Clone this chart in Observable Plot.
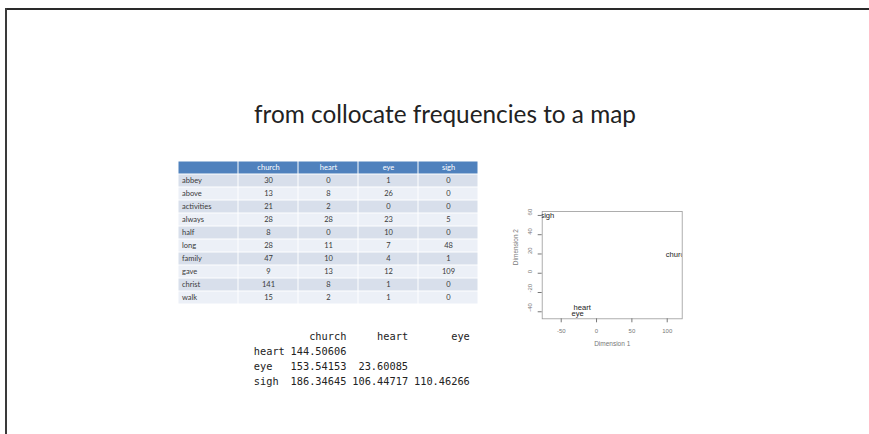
<!DOCTYPE html>
<html><head><meta charset="utf-8">
<script src="https://cdn.jsdelivr.net/npm/d3@7"></script>
<script src="https://cdn.jsdelivr.net/npm/@observablehq/plot@0.6"></script>
<style>
html,body{margin:0;padding:0;background:#fff;}
#slide{position:relative;width:869px;height:434px;overflow:hidden;background:#fff;}
.abs{position:absolute;}
#bt{left:5px;top:7.5px;width:864px;height:2px;background:#2a2a2a;}
#bl{left:5px;top:7.5px;width:2px;height:427px;background:#3a3a3a;}
#titleSvg{left:0;top:0;}
#table{left:178px;top:157.5px;}
#dist{left:250px;top:325px;}
#scatter{left:500px;top:195px;}
</style>
</head><body>
<div id="slide">
  <div class="abs" id="bt"></div>
  <div class="abs" id="bl"></div>
  <svg class="abs" id="titleSvg" width="869" height="140"></svg>
  <div class="abs" id="table"></div>
  <div class="abs" id="dist"></div>
  <div class="abs" id="scatter"></div>
</div>
<script>
// ---- data ----
const titleText = "from collocate frequencies to a map";
const words = ["abbey","above","activities","always","half","long","family","gave","christ","walk"];
const nodes = ["church","heart","eye","sigh"];
const church = [30,13,21,28,8,28,47,9,141,15];
const heart  = [0,8,2,28,0,11,10,13,8,2];
const eye    = [1,26,0,23,10,7,4,12,1,1];
const sigh   = [0,0,0,5,0,48,1,109,0,0];

const distRows = ["heart","eye","sigh"];
const distCols = ["church","heart","eye"];
const distHeart = [144.50606];
const distEye   = [153.54153, 23.60085];
const distSigh  = [186.34645, 106.44717, 110.46266];

const mdsX = [114, -20.4, -26.8, -69.6];   // church, heart, eye, sigh
const mdsY = [19.4, -35.5, -41.8, 60];
const xTicks = [-50, 0, 50, 100];
const yTicks = [-40, -20, 0, 20, 40, 60];
const xLabel = "Dimension 1";
const yLabel = "Dimension 2";

// ---- title ----
(function(){
  const svg = d3.select("#titleSvg");
  const t = svg.append("text").attr("x", 445).attr("y", 123.3)
    .attr("text-anchor", "middle")
    .attr("font-family", "Lato, 'Open Sans', sans-serif")
    .attr("font-size", 20).attr("fill", "#222").text(titleText);
  const w = t.node().getComputedTextLength();
  t.attr("font-size", 20 * 382 / w);
})();

// ---- table ----
const cols = ["", ...nodes];
const HDR = "__header";
const series = {church, heart, eye, sigh};
const cellData = [];
cols.forEach(c => cellData.push({row: HDR, col: c, i: -1}));
words.forEach((w, i) => cols.forEach(c => cellData.push({row: w, col: c, i})));
const valueData = [];
words.forEach((w, i) => nodes.forEach(n => valueData.push({row: w, col: n, v: series[n][i]})));

const table = Plot.plot({
  width: 302, height: 149,
  marginTop: 0, marginBottom: 0, marginLeft: 0, marginRight: 2,
  x: {type: "band", domain: cols, padding: 0, axis: null},
  y: {type: "band", domain: [HDR, ...words], padding: 0, axis: null},
  color: {type: "identity"},
  style: {fontFamily: "Lato, 'Open Sans', sans-serif", background: "transparent", overflow: "visible"},
  marks: [
    Plot.cell(cellData, {x: "col", y: "row",
      fill: d => d.row === HDR ? "#4f81bd" : (d.i % 2 === 0 ? "#d8dfeb" : "#ecf0f7"),
      inset: 0.5}),
    Plot.text(nodes, {x: d => d, y: () => HDR, text: d => d, fill: "#fff", fontSize: 7.5}),
    Plot.text(words, {x: () => "", y: d => d, text: d => d, textAnchor: "start", dx: -26.5, fill: "#3a3a3a", fontSize: 7.5}),
    Plot.text(valueData, {x: "col", y: "row", text: d => String(d.v), fill: "#3a3a3a", fontSize: 7.5})
  ]
});
document.getElementById("table").appendChild(table);

// ---- distance matrix (R print) ----
const distValues = [distHeart, distEye, distSigh];
const distCells = [];
distRows.forEach((r, i) => distValues[i].forEach((v, j) => distCells.push({row: r, j, v})));
const colEnd = j => 15 + 10 * j;
const dist = Plot.plot({
  width: 230, height: 66,
  marginLeft: 3.3, marginRight: 10.7, marginTop: 10, marginBottom: 10,
  x: {domain: [0, 35], axis: null},
  y: {type: "point", domain: [HDR, ...distRows], padding: 0, axis: null},
  style: {fontFamily: "'DejaVu Sans Mono', monospace", background: "transparent", overflow: "visible"},
  marks: [
    Plot.text(distCols, {x: (d, j) => colEnd(j), y: () => HDR, text: d => d, textAnchor: "end", fill: "#222", fontSize: 10.3}),
    Plot.text(distRows, {x: () => 0, y: d => d, text: d => d, textAnchor: "start", fill: "#222", fontSize: 10.3}),
    Plot.text(distCells, {x: d => colEnd(d.j), y: "row", text: d => d.v.toFixed(5), textAnchor: "end", fill: "#222", fontSize: 10.3})
  ]
});
document.getElementById("dist").appendChild(dist);

// ---- MDS scatter ----
const scatter = Plot.plot({
  width: 200, height: 165,
  marginLeft: 41.7, marginRight: 18.3, marginTop: 16, marginBottom: 41.7,
  x: {domain: [-76.9, 121.2]},
  y: {domain: [-47.3, 64.1]},
  style: {fontFamily: "'Liberation Sans', Arial, sans-serif", background: "transparent", overflow: "visible"},
  marks: [
    Plot.frame({stroke: "#9a9a9a", strokeWidth: 0.8}),
    Plot.axisX({ticks: xTicks, tickSize: 4, tickPadding: 6, fontSize: 6, color: "#777", label: null, tickFormat: d => String(d)}),
    Plot.axisY({ticks: yTicks, tickSize: 4, tickPadding: 0, label: null, color: "#777", tickFormat: () => ""}),
    Plot.text(yTicks, {y: d => d, text: d => String(d), frameAnchor: "left", dx: -11.7, rotate: -90, fontSize: 6, fill: "#777"}),
    Plot.text([xLabel], {frameAnchor: "bottom", dy: 27.4, text: d => d, fontSize: 6.5, fill: "#777"}),
    Plot.text([yLabel], {frameAnchor: "left", dx: -26.7, rotate: -90, text: d => d, fontSize: 6.5, fill: "#777"}),
    Plot.text(nodes, {x: (d, i) => mdsX[i], y: (d, i) => mdsY[i], text: d => d, fontSize: 7.6, fill: "#222", clip: true})
  ]
});
document.getElementById("scatter").appendChild(scatter);
</script>
</body></html>
